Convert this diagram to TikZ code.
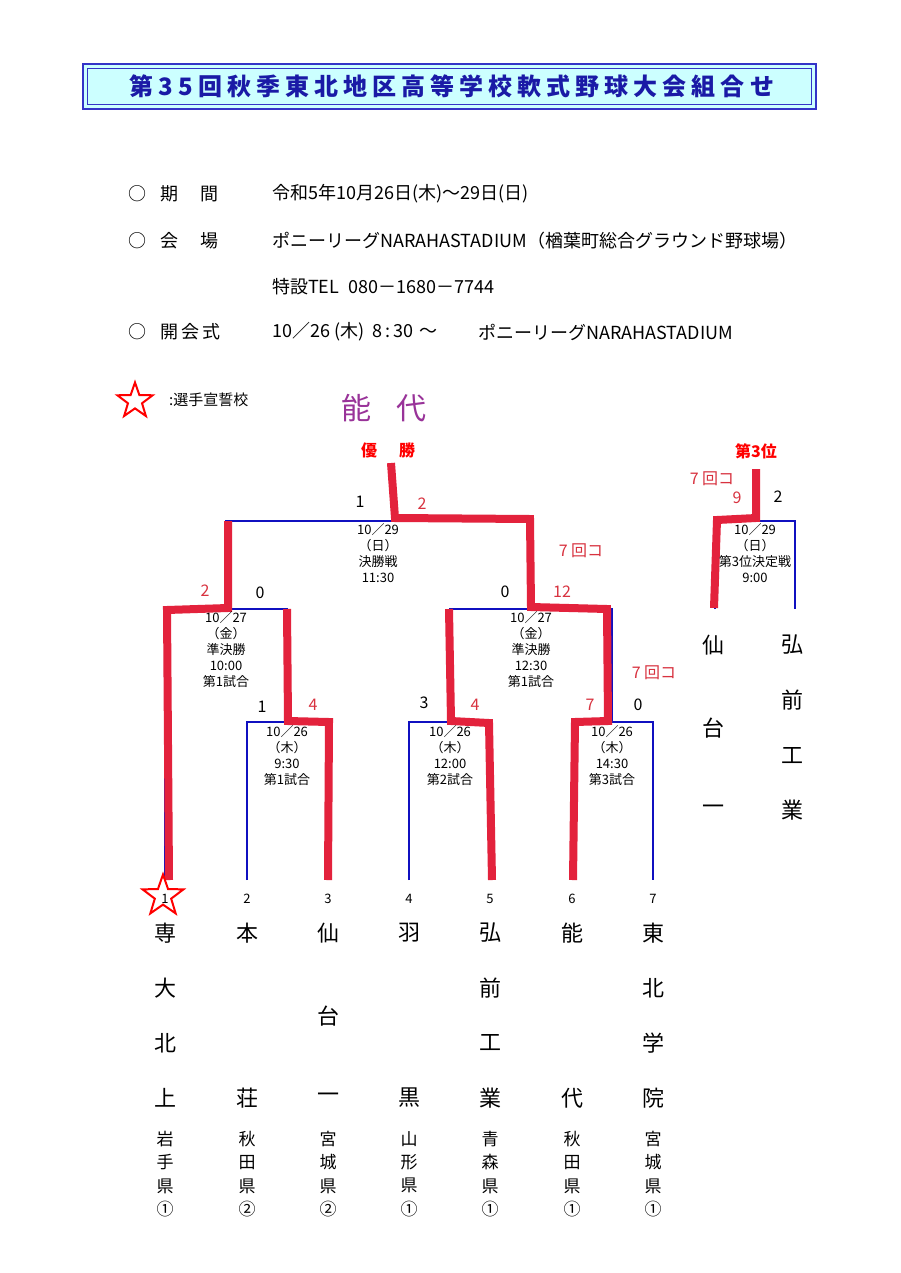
\documentclass[tikz,border=0pt]{standalone}
\usepackage{fontspec}
\setmainfont{Noto Sans CJK JP}
\usetikzlibrary{shapes.geometric}
\definecolor{bblue}{HTML}{1010C0}
\definecolor{wred}{HTML}{E3223C}
\definecolor{sred}{HTML}{D8323F}
\definecolor{tblue}{HTML}{1A1AA6}
\definecolor{tfill}{HTML}{CCFFFF}
\definecolor{tborder}{HTML}{3434C8}
\definecolor{purp}{HTML}{993399}
\newcommand\fsz[1]{\fontsize{#1}{#1}\selectfont}
\tikzset{
  bl/.style={draw=bblue, line width=1.4pt},
  rl/.style={draw=wred, line width=8pt, line join=miter},
  sc/.style={font=\fsz{16}, inner sep=0},
  rsc/.style={sc, text=sred},
  info/.style={anchor=west, inner sep=0, font=\fsz{18}},
  mi/.style={align=center, font=\fontsize{13}{16}\selectfont, inner sep=0},
  nm/.style={font=\fsz{22}, inner sep=0},
  pf/.style={font=\fontsize{17}{23.3}\selectfont, inner sep=0, align=center},
  num/.style={font=\fsz{13}, inner sep=0},
  mystar/.style={star, star points=5, star point ratio=2.5, draw=red, line width=2pt, inner sep=0},
}
\begin{document}
\begin{tikzpicture}[x=1pt,y=-1pt]
\path[use as bounding box, fill=white] (0,0) rectangle (900,1273);

% title
\draw[tborder, line width=2.2pt, fill=tfill] (83,64) rectangle (816,109);
\draw[tborder, line width=0.9pt] (87.5,68.5) rectangle (811.5,104.5);
\node[inner sep=0, text=tblue, font=\fsz{24}\bfseries\addfontfeature{LetterSpace=21}] (title) at (452,86.5) {第35回秋季東北地区高等学校軟式野球大会組合せ};

% info
\node[info] (o1) at (128,194) {○};
\node[info] (l1) at (160,194) {期\hspace{22pt}間};
\node[info] (v1) at (272,194) {令和5年10月26日(木)～29日(日)};
\node[info] (o2) at (128,241) {○};
\node[info] (l2) at (160,241) {会\hspace{22pt}場};
\node[info] (v2) at (272,241) {ポニーリーグNARAHASTADIUM（楢葉町総合グラウンド野球場）};
\node[info] (v3) at (272,287) {特設TEL\hspace{9pt}080－1680－7744};
\node[info] (o4) at (128,332) {○};
\node[info] (l4) at (160,332) {開\hspace{3pt}会\hspace{3pt}式};
\node[info] (v4) at (272,332) {10／26\hspace{4pt}(木)\hspace{8pt}8\,:\,30\hspace{6pt}～};
\node[info] (v4b) at (478,332) {ポニーリーグNARAHASTADIUM};

% legend
\node[mystar, minimum size=37pt] (lstar) at (135,401) {};
\node[anchor=west, inner sep=0, font=\fsz{15}] (legend) at (169,400) {:選手宣誓校};

% champion
\node[inner sep=0, text=purp, font=\fsz{30}] (champ) at (384,408) {能\hspace{26pt}代};
\node[inner sep=0, text=red, font=\fsz{16}\bfseries] (yusho) at (388,450) {優\hspace{22pt}勝};
\node[inner sep=0, text=red, font=\fsz{16}\bfseries] (third) at (756,451) {第3位};

% coordinates
\foreach \i/\x in {1/165,2/247,3/328,4/409,5/490,6/572,7/653} {
  \coordinate (t\i) at (\x,880);
  \coordinate (q\i) at (\x,722);
}
\coordinate (qam) at (287,722);
\coordinate (qbm) at (450,722);
\coordinate (qcm) at (612,722);
\coordinate (s1a) at (165,609);
\coordinate (s1b) at (287,609);
\coordinate (s2a) at (450,609);
\coordinate (s2b) at (612,609);
\coordinate (s1m) at (226,609);
\coordinate (s2m) at (531,609);
\coordinate (fa) at (226,521);
\coordinate (fb) at (531,521);
\coordinate (tp1) at (715,609);
\coordinate (tpa) at (715,521);
\coordinate (tpb) at (795,521);
\coordinate (tp2) at (795,609);

% blue bracket
\draw[bl] (t2) -- (q2) -- (q3) -- (t3);
\draw[bl] (t4) -- (q4) -- (q5) -- (t5);
\draw[bl] (t6) -- (q6) -- (q7) -- (t7);
\draw[bl] (t1) -- (s1a) -- (s1b) -- (qam);
\draw[bl] (qbm) -- (s2a) -- (s2b) -- (qcm);
\draw[bl] (s1m) -- (fa) -- (fb) -- (s2m);
\draw[bl] (tp1) -- (tpa) -- (tpb) -- (tp2);

% red winner paths
\coordinate (ftop) at (391,463);
\coordinate (tptop) at (756,469);
\draw[rl] (ftop) -- (395,518) -- (530,519) -- (531,607) -- (607,609) -- (608,721) -- (575,722) -- (573,880);
\draw[rl] (228,521) -- (228,608) -- (167,610) -- (169,880);
\draw[rl] (287,609) -- (288,721) -- (329,722) -- (328,880);
\draw[rl] (449,609) -- (451,721) -- (489,723) -- (492,880);
\draw[rl] (tptop) -- (756,518) -- (717,520) -- (714,608);

% scores
\node[sc] (sf1) at (360,502) {1};
\node[rsc] (sf2) at (422,504) {2};
\node[rsc] (cf) at (581,551) {7 回コ};
\node[rsc] (ss1) at (205,591) {2};
\node[sc] (ss2) at (260,593) {0};
\node[sc] (ss3) at (505,592) {0};
\node[rsc] (ss4) at (562,592) {12};
\node[rsc] (cs) at (654,673) {7 回コ};
\node[sc] (qa1) at (262,707) {1};
\node[rsc] (qa2) at (313,705) {4};
\node[sc] (qb1) at (424,703) {3};
\node[rsc] (qb2) at (475,705) {4};
\node[rsc] (qc1) at (590,705) {7};
\node[sc] (qc2) at (638,705) {0};
\node[rsc] (ct) at (712,479) {7 回コ};
\node[rsc] (st1) at (737,498) {9};
\node[sc] (st2) at (778,497) {2};

% match info
\node[mi] (mf) at (378,553.5) {10／29\\（日）\\決勝戦\\11:30};
\node[mi] (ms1) at (226,650) {10／27\\（金）\\準決勝\\10:00\\第1試合};
\node[mi] (ms2) at (531,650) {10／27\\（金）\\準決勝\\12:30\\第1試合};
\node[mi] (mqa) at (287,756) {10／26\\（木）\\9:30\\第1試合};
\node[mi] (mqb) at (450,756) {10／26\\（木）\\12:00\\第2試合};
\node[mi] (mqc) at (612,756) {10／26\\（木）\\14:30\\第3試合};
\node[mi] (mt) at (755,553.5) {10／29\\（日）\\第3位決定戦\\9:00};

% third place names
\node[nm] (a1) at (713,645) {仙};
\node[nm] (a2) at (713,728) {台};
\node[nm] (a3) at (713,810) {一};
\node[nm] (b1) at (792,645) {弘};
\node[nm] (b2) at (792,700) {前};
\node[nm] (b3) at (792,756) {工};
\node[nm] (b4) at (792,810) {業};

% entrants
\node[mystar, minimum size=43pt] (bstar) at (163,896) {};
\foreach \i/\x in {1/165,2/247,3/328,4/409,5/490,6/572,7/653} {
  \node[num] (n\i) at (\x,899) {\i};
}
% team 1
\node[nm] (e1a) at (165,933) {専};
\node[nm] (e1b) at (165,988) {大};
\node[nm] (e1c) at (165,1043) {北};
\node[nm] (e1d) at (165,1098) {上};
% team 2
\node[nm] (e2a) at (247,933) {本};
\node[nm] (e2b) at (247,1098) {荘};
% team 3
\node[nm] (e3a) at (328,933) {仙};
\node[nm] (e3b) at (328,1016) {台};
\node[nm] (e3c) at (328,1098) {一};
% team 4
\node[nm] (e4a) at (409,933) {羽};
\node[nm] (e4b) at (409,1098) {黒};
% team 5
\node[nm] (e5a) at (490,933) {弘};
\node[nm] (e5b) at (490,988) {前};
\node[nm] (e5c) at (490,1043) {工};
\node[nm] (e5d) at (490,1098) {業};
% team 6
\node[nm] (e6a) at (572,933) {能};
\node[nm] (e6b) at (572,1098) {代};
% team 7
\node[nm] (e7a) at (653,933) {東};
\node[nm] (e7b) at (653,988) {北};
\node[nm] (e7c) at (653,1043) {学};
\node[nm] (e7d) at (653,1098) {院};

% prefectures
\node[pf] (p1) at (165,1174) {岩\\手\\県\\①};
\node[pf] (p2) at (247,1174) {秋\\田\\県\\②};
\node[pf] (p3) at (328,1174) {宮\\城\\県\\②};
\node[pf] (p4) at (409,1174) {山\\形\\県\\①};
\node[pf] (p5) at (490,1174) {青\\森\\県\\①};
\node[pf] (p6) at (572,1174) {秋\\田\\県\\①};
\node[pf] (p7) at (653,1174) {宮\\城\\県\\①};
\end{tikzpicture}
\end{document}
